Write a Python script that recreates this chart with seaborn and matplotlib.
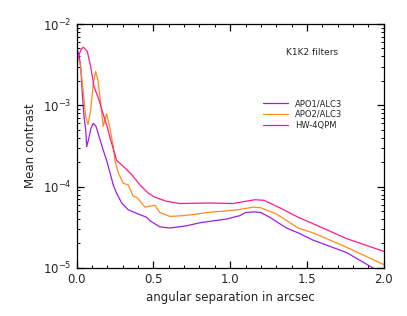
import numpy as np
import pandas as pd
import matplotlib
matplotlib.use('Agg')
from matplotlib import pyplot as plt
from matplotlib.ticker import LogLocator, MultipleLocator, NullFormatter
import seaborn as sns

# Werte
sep_apo1 = [0, 0.016, 0.027, 0.038, 0.049, 0.060, 0.066, 0.081, 0.094, 0.109, 0.127, 0.153,
            0.174, 0.196, 0.218, 0.239, 0.261, 0.294, 0.337, 0.402, 0.457, 0.478, 0.543, 0.608,
            0.717, 0.803, 0.977, 1.063, 1.10, 1.154, 1.20, 1.258, 1.367, 1.443, 1.540, 1.757,
            1.930, 2.0]
con_apo1 = [5.0e-3, 4.2e-3, 3.0e-3, 1.4e-3, 7.2e-4, 5.0e-4, 3.1e-4, 4.0e-4, 5.2e-4, 6.0e-4,
            5.5e-4, 3.8e-4, 2.8e-4, 2.1e-4, 1.48e-4, 1.05e-4, 8.3e-5, 6.3e-5, 5.2e-5, 4.6e-5,
            4.2e-5, 3.8e-5, 3.2e-5, 3.1e-5, 3.3e-5, 3.6e-5, 4.0e-5, 4.4e-5, 4.8e-5, 4.9e-5,
            4.8e-5, 4.2e-5, 3.1e-5, 2.7e-5, 2.2e-5, 1.55e-5, 1.0e-5, 8.5e-6]

sep_apo2 = [0, 0.016, 0.027, 0.038, 0.049, 0.060, 0.075, 0.092, 0.109, 0.125, 0.140, 0.157,
            0.174, 0.196, 0.218, 0.239, 0.250, 0.272, 0.304, 0.337, 0.369, 0.392, 0.424, 0.446,
            0.478, 0.510, 0.543, 0.608, 0.695, 0.782, 0.847, 0.955, 1.052, 1.150, 1.20, 1.302,
            1.443, 1.540, 1.757, 2.0]
con_apo2 = [3.6e-3, 3.5e-3, 3.0e-3, 1.86e-3, 1.17e-3, 7.2e-4, 5.8e-4, 8.7e-4, 1.86e-3, 2.6e-3,
            2.0e-3, 1.07e-3, 5.5e-4, 7.9e-4, 5.2e-4, 3.1e-4, 2.1e-4, 1.48e-4, 1.10e-4, 1.05e-4,
            7.6e-5, 7.4e-5, 6.3e-5, 5.6e-5, 5.75e-5, 5.9e-5, 4.8e-5, 4.3e-5, 4.4e-5, 4.6e-5,
            4.8e-5, 5.0e-5, 5.2e-5, 5.6e-5, 5.5e-5, 4.6e-5, 3.1e-5, 2.7e-5, 1.8e-5, 1.1e-5]

sep_hw = [0, 0.016, 0.029, 0.044, 0.070, 0.092, 0.114, 0.146, 0.179, 0.198, 0.221, 0.250,
          0.261, 0.304, 0.359, 0.413, 0.467, 0.511, 0.587, 0.673, 0.868, 1.020, 1.10, 1.161,
          1.22, 1.323, 1.443, 1.540, 1.757, 2.0]
con_hw = [3.2e-3, 4.2e-3, 4.8e-3, 5.2e-3, 4.6e-3, 3.0e-3, 1.7e-3, 1.17e-3, 7.2e-4, 5.6e-4,
          3.8e-4, 2.5e-4, 2.1e-4, 1.78e-4, 1.41e-4, 1.05e-4, 8.3e-5, 7.4e-5, 6.6e-5, 6.2e-5,
          6.3e-5, 6.2e-5, 6.6e-5, 6.9e-5, 6.8e-5, 5.5e-5, 4.2e-5, 3.5e-5, 2.3e-5, 1.6e-5]

labels = ['APO1/ALC3', 'APO2/ALC3', 'HW-4QPM']
colors = ['#9b1fe8', '#ff8c1a', '#ff1a8c']

df = pd.concat([
    pd.DataFrame({'sep': sep_apo1, 'contrast': con_apo1, 'coronagraph': labels[0]}),
    pd.DataFrame({'sep': sep_apo2, 'contrast': con_apo2, 'coronagraph': labels[1]}),
    pd.DataFrame({'sep': sep_hw, 'contrast': con_hw, 'coronagraph': labels[2]}),
], ignore_index=True)

sns.set_style('ticks')
plt.rcParams['font.family'] = ['DejaVu Sans']

fig = plt.figure(figsize=(4.07, 3.16), dpi=100)
ax = fig.add_axes([0.188, 0.152, 0.755, 0.772])

sns.lineplot(data=df, x='sep', y='contrast', hue='coronagraph', palette=dict(zip(labels, colors)),
             estimator=None, sort=False, linewidth=0.9, ax=ax)

ax.set_yscale('log')
ax.set_xlim(0, 2.0)
ax.set_ylim(1e-5, 1e-2)
ax.xaxis.set_major_locator(MultipleLocator(0.5))
ax.xaxis.set_minor_locator(MultipleLocator(0.1))
ax.yaxis.set_major_locator(LogLocator(base=10))
ax.yaxis.set_minor_locator(LogLocator(base=10, subs=np.arange(2, 10)))
ax.yaxis.set_minor_formatter(NullFormatter())
ax.tick_params(which='both', direction='in', top=True, right=True, labelsize=8.5, color='black')
ax.tick_params(which='major', length=5, width=0.9)
ax.tick_params(which='minor', length=2.5, width=0.7)
for s in ax.spines.values():
    s.set_color('black')
    s.set_linewidth(0.9)

ax.set_xlabel('angular separation in arcsec', fontsize=8.5)
ax.set_ylabel('Mean contrast', fontsize=8.5)

ax.text(0.765, 0.885, 'K1K2 filters', transform=ax.transAxes, ha='center', va='center', fontsize=6.5)

ax.legend(loc='upper left', bbox_to_anchor=(0.595, 0.705), frameon=False, fontsize=6,
          handlelength=3.0, handletextpad=0.9, labelspacing=0.2, borderaxespad=0, title=None)

fig.savefig('out.png', dpi=100)
